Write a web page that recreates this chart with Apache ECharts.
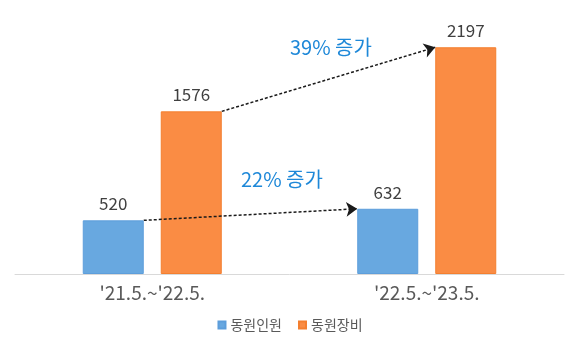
<!DOCTYPE html>
<html><head><meta charset="utf-8">
<script src="https://cdn.jsdelivr.net/npm/echarts@6/dist/echarts.min.js"></script>
<style>html,body{margin:0;padding:0;background:#fff}#c{width:580px;height:348px}</style>
</head><body><div id="c"></div>
<script>
const categories = ["'21.5.~'22.5.", "'22.5.~'23.5."];
const seriesNames = ['동원인원', '동원장비'];
const personnel = [520, 632];
const equipment = [1576, 2197];
const growthLabels = ['22% 증가', '39% 증가'];

const FONT = "'Noto Sans CJK KR', 'Noto Sans', sans-serif";
const BAR_W = 61, GAP = 17;
const chart = echarts.init(document.getElementById('c'), null, {renderer: 'canvas'});
const gridLeft = 15, gridRight = 16;
const catW = (580 - gridLeft - gridRight) / categories.length;
const inner = (GAP / 2) / catW;          // offset from category centre to inner bar edge (value units)
const outer = (GAP / 2 + BAR_W) / catW;  // offset to outer edge

const arrowLines = [
  {coords: [[0 - inner, personnel[0]], [1 - outer, personnel[1]]]},
  {coords: [[0 + outer, equipment[0]], [1 + inner, equipment[1]]]}
];

chart.setOption({
  animation: false,
  textStyle: {fontFamily: FONT},
  grid: {left: gridLeft, right: gridRight, top: 16, bottom: 74, containLabel: false},
  legend: {
    bottom: 11, left: 'center', itemWidth: 7, itemHeight: 7, itemGap: 16,
    icon: 'rect',
    textStyle: {fontSize: 14, color: '#595959', fontFamily: FONT},
    data: seriesNames
  },
  xAxis: [
    {type: 'category', data: categories,
     axisLine: {lineStyle: {color: '#d9d9d9', width: 1}},
     axisTick: {show: false},
     axisLabel: {fontSize: 19, color: '#595959', margin: 9, fontFamily: FONT}},
    {type: 'value', min: -0.5, max: 1.5, show: false}
  ],
  yAxis: {type: 'value', min: 0, max: 2500, show: false, splitLine: {show: false}},
  series: [
    {name: seriesNames[0], type: 'bar', data: personnel, barWidth: BAR_W, barGap: (GAP / BAR_W * 100) + '%',
     itemStyle: {color: '#68a8e0', borderColor: '#5d9edb', borderWidth: 1},
     label: {show: true, position: 'top', distance: 8, fontSize: 17, color: '#404040', fontFamily: FONT}},
    {name: seriesNames[1], type: 'bar', data: equipment, barWidth: BAR_W,
     itemStyle: {color: '#fa8c44', borderColor: '#f47f2f', borderWidth: 1},
     label: {show: true, position: 'top', distance: 8, fontSize: 17, color: '#404040', fontFamily: FONT}},
    {type: 'lines', coordinateSystem: 'cartesian2d', xAxisIndex: 1, yAxisIndex: 0,
     symbol: ['none', 'arrow'], symbolSize: [0, 11],
     lineStyle: {color: '#1a1a1a', width: 1.5, type: [3, 2], opacity: 1},
     data: arrowLines, z: 5}
  ],
  graphic: [
    {type: 'text', left: 241, top: 169, style: {text: growthLabels[0], fontSize: 20, fill: '#1e88d8', fontFamily: FONT}},
    {type: 'text', left: 290, top: 37, style: {text: growthLabels[1], fontSize: 20, fill: '#1e88d8', fontFamily: FONT}}
  ]
});
</script></body></html>
